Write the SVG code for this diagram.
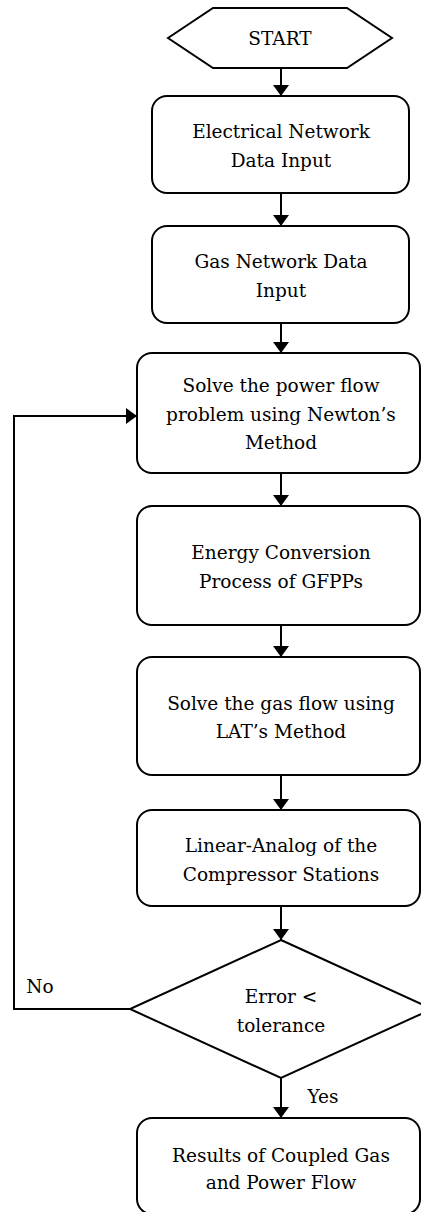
<svg xmlns="http://www.w3.org/2000/svg" width="421" height="1212" viewBox="0 0 421 1212">
<defs>
<marker id="ah" markerUnits="userSpaceOnUse" markerWidth="12" markerHeight="18" refX="11" refY="8" orient="auto">
<path d="M0,0 L11,8 L0,16 Z" fill="#000"/>
</marker>
</defs>
<style>
.n{fill:#fff;stroke:#000;stroke-width:2}
.t{font-family:'DejaVu Serif',serif;font-size:18.5px;fill:#000;text-anchor:middle}
.c{fill:none;stroke:#000;stroke-width:2}
</style>
<rect width="421" height="1212" fill="#fff"/>
<g id="connectors">
<line class="c" x1="281" y1="68" x2="281" y2="96" marker-end="url(#ah)"/>
<line class="c" x1="281" y1="193" x2="281" y2="226" marker-end="url(#ah)"/>
<line class="c" x1="281" y1="323" x2="281" y2="353" marker-end="url(#ah)"/>
<line class="c" x1="281" y1="473" x2="281" y2="506" marker-end="url(#ah)"/>
<line class="c" x1="281" y1="625" x2="281" y2="657" marker-end="url(#ah)"/>
<line class="c" x1="281" y1="775" x2="281" y2="810" marker-end="url(#ah)"/>
<line class="c" x1="281" y1="906" x2="281" y2="940" marker-end="url(#ah)"/>
<line class="c" x1="281" y1="1078" x2="281" y2="1118" marker-end="url(#ah)"/>
<polyline class="c" points="130,1009 14,1009 14,416 137,416" marker-end="url(#ah)"/>
<text class="t" x="40" y="993">No</text>
<text class="t" x="323" y="1103">Yes</text>
</g>
<g id="start">
<polygon class="n" points="168,38 213,8 347,8 392,38 347,68 213,68"/>
<text class="t" x="280" y="45">START</text>
</g>
<g id="elec">
<rect class="n" x="152" y="96" width="257" height="97" rx="15"/>
<text class="t" x="281" y="138">Electrical Network</text>
<text class="t" x="281" y="167">Data Input</text>
</g>
<g id="gas">
<rect class="n" x="152" y="226" width="257" height="97" rx="15"/>
<text class="t" x="281" y="268">Gas Network Data</text>
<text class="t" x="281" y="297">Input</text>
</g>
<g id="powerflow">
<rect class="n" x="137" y="353" width="283" height="120" rx="15"/>
<text class="t" x="281" y="392">Solve the power flow</text>
<text class="t" x="281" y="420.5">problem using Newton’s</text>
<text class="t" x="281" y="449">Method</text>
</g>
<g id="energy">
<rect class="n" x="137" y="506" width="283" height="119" rx="15"/>
<text class="t" x="281" y="559">Energy Conversion</text>
<text class="t" x="281" y="588">Process of GFPPs</text>
</g>
<g id="gasflow">
<rect class="n" x="137" y="657" width="283" height="118" rx="15"/>
<text class="t" x="281" y="710">Solve the gas flow using</text>
<text class="t" x="281" y="738">LAT’s Method</text>
</g>
<g id="linear">
<rect class="n" x="137" y="810" width="283" height="96" rx="15"/>
<text class="t" x="281" y="852">Linear-Analog of the</text>
<text class="t" x="281" y="881">Compressor Stations</text>
</g>
<g id="decision">
<polygon class="n" points="281,940 432,1009 281,1078 130,1009"/>
<text class="t" x="281" y="1003">Error &lt;</text>
<text class="t" x="281" y="1032">tolerance</text>
</g>
<g id="results">
<rect class="n" x="137" y="1118" width="283" height="96" rx="15"/>
<text class="t" x="281" y="1162">Results of Coupled Gas</text>
<text class="t" x="281" y="1189">and Power Flow</text>
</g>
</svg>
